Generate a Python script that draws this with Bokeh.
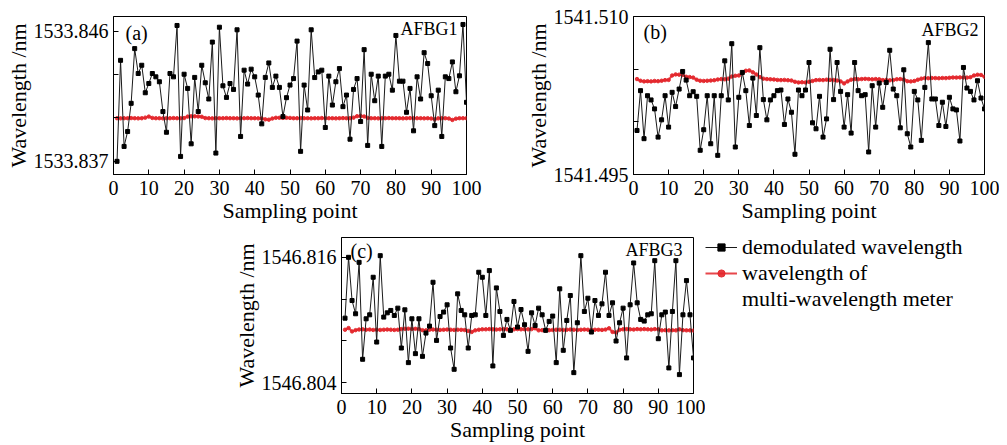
from bokeh.plotting import figure
from bokeh.models import Range1d, FixedTicker, Label, Legend, LegendItem, Spacer
from bokeh.layouts import column, row
from bokeh.embed import file_html
from bokeh.resources import INLINE

# ---------------- data ----------------
sample = list(range(1, 101))
x_ticks = [0, 10, 20, 30, 40, 50, 60, 70, 80, 90, 100]

afbg1_demod = [
    1533.83700, 1533.84398, 1533.83803, 1533.83906, 1533.84101, 1533.84479, 1533.84307, 1533.84364, 1533.84174, 1533.84238,
    1533.84307, 1533.84284, 1533.84250, 1533.84044, 1533.83901, 1533.84307, 1533.84284, 1533.84639, 1533.83734, 1533.84302,
    1533.84204, 1533.83821, 1533.84280, 1533.84044, 1533.84364, 1533.84243, 1533.84131, 1533.84524, 1533.83757, 1533.84627,
    1533.84222, 1533.84142, 1533.84238, 1533.84197, 1533.84609, 1533.83872, 1533.84330, 1533.84234, 1533.84337, 1533.84284,
    1533.84158, 1533.83959, 1533.84280, 1533.84380, 1533.84211, 1533.84289, 1533.84211, 1533.84009, 1533.84140, 1533.84227,
    1533.84272, 1533.84531, 1533.83769, 1533.84227, 1533.84055, 1533.84609, 1533.84279, 1533.84318, 1533.84330, 1533.83934,
    1533.84289, 1533.84089, 1533.84250, 1533.84341, 1533.84078, 1533.84158, 1533.83853, 1533.84197, 1533.84272, 1533.83975,
    1533.84472, 1533.83810, 1533.84302, 1533.84119, 1533.84289, 1533.83803, 1533.84289, 1533.84302, 1533.84192, 1533.84570,
    1533.84254, 1533.84254, 1533.84039, 1533.84204, 1533.83911, 1533.84284, 1533.84131, 1533.84451, 1533.84376, 1533.84153,
    1533.83947, 1533.84192, 1533.83872, 1533.84284, 1533.84272, 1533.84387, 1533.84181, 1533.84291, 1533.84646, 1533.84108,
]
afbg1_meter = [
    1533.83998, 1533.83997, 1533.83998, 1533.83998, 1533.83999, 1533.83998, 1533.83997, 1533.83998, 1533.84002, 1533.84009,
    1533.84000, 1533.83998, 1533.83998, 1533.83997, 1533.83998, 1533.83998, 1533.83999, 1533.83998, 1533.83998, 1533.83999,
    1533.84009, 1533.84011, 1533.84011, 1533.84010, 1533.84008, 1533.83999, 1533.83998, 1533.83997, 1533.83998, 1533.83998,
    1533.83998, 1533.83999, 1533.83998, 1533.83998, 1533.83997, 1533.83998, 1533.83998, 1533.83999, 1533.83998, 1533.83998,
    1533.83997, 1533.83996, 1533.83990, 1533.83988, 1533.83996, 1533.84001, 1533.84001, 1533.84000, 1533.84001, 1533.84000,
    1533.83998, 1533.83998, 1533.83999, 1533.83998, 1533.83998, 1533.83997, 1533.83998, 1533.83998, 1533.83999, 1533.83998,
    1533.83998, 1533.83998, 1533.83997, 1533.83998, 1533.83999, 1533.83998, 1533.83998, 1533.84002, 1533.84012, 1533.84014,
    1533.84010, 1533.84000, 1533.83998, 1533.83998, 1533.83997, 1533.83998, 1533.83998, 1533.83999, 1533.83998, 1533.83998,
    1533.83998, 1533.83997, 1533.83998, 1533.83999, 1533.83998, 1533.83998, 1533.83998, 1533.83997, 1533.83998, 1533.83996,
    1533.83990, 1533.83997, 1533.83998, 1533.83998, 1533.83996, 1533.83986, 1533.83995, 1533.83998, 1533.83998, 1533.83998,
]
afbg1_yticks = [1533.837, 1533.840, 1533.843, 1533.846]
afbg1_ylabels = ["1533.837", "", "", "1533.846"]
afbg1_yrange = (1533.83609, 1533.84701)

afbg2_demod = [
    1541.49918, 1541.50296, 1541.49840, 1541.50248, 1541.50208, 1541.50123, 1541.49855, 1541.50019, 1541.50248, 1541.49950,
    1541.50280, 1541.50145, 1541.50311, 1541.50478, 1541.50396, 1541.50248, 1541.50286, 1541.50242, 1541.49730, 1541.49925,
    1541.50248, 1541.49792, 1541.50248, 1541.49682, 1541.50248, 1541.50579, 1541.50208, 1541.50742, 1541.49761, 1541.50233,
    1541.50469, 1541.50296, 1541.49965, 1541.50415, 1541.50060, 1541.50704, 1541.50211, 1541.50019, 1541.50208, 1541.50248,
    1541.50296, 1541.50302, 1541.49975, 1541.50217, 1541.50091, 1541.49692, 1541.50302, 1541.50248, 1541.50302, 1541.50563,
    1541.49991, 1541.49934, 1541.50242, 1541.49855, 1541.50028, 1541.50689, 1541.50211, 1541.50563, 1541.50289, 1541.49950,
    1541.50258, 1541.49893, 1541.50563, 1541.50296, 1541.50248, 1541.50258, 1541.49714, 1541.50343, 1541.49950, 1541.50368,
    1541.50138, 1541.50374, 1541.50679, 1541.50311, 1541.50248, 1541.49943, 1541.50494, 1541.49887, 1541.49761, 1541.50289,
    1541.50208, 1541.49824, 1541.50327, 1541.50752, 1541.50217, 1541.50217, 1541.49965, 1541.50186, 1541.49956, 1541.50233,
    1541.50123, 1541.50113, 1541.49818, 1541.50516, 1541.50321, 1541.50289, 1541.50208, 1541.50390, 1541.50226, 1541.50123,
]
afbg2_meter = [
    1541.50406, 1541.50390, 1541.50384, 1541.50386, 1541.50384, 1541.50388, 1541.50386, 1541.50390, 1541.50396, 1541.50398,
    1541.50440, 1541.50450, 1541.50448, 1541.50445, 1541.50428, 1541.50425, 1541.50420, 1541.50400, 1541.50390, 1541.50388,
    1541.50390, 1541.50392, 1541.50395, 1541.50402, 1541.50406, 1541.50404, 1541.50410, 1541.50430, 1541.50437, 1541.50440,
    1541.50460, 1541.50485, 1541.50488, 1541.50470, 1541.50450, 1541.50425, 1541.50410, 1541.50406, 1541.50404, 1541.50402,
    1541.50398, 1541.50396, 1541.50398, 1541.50395, 1541.50392, 1541.50380, 1541.50374, 1541.50376, 1541.50374, 1541.50380,
    1541.50388, 1541.50396, 1541.50398, 1541.50396, 1541.50400, 1541.50398, 1541.50396, 1541.50392, 1541.50384, 1541.50365,
    1541.50384, 1541.50400, 1541.50406, 1541.50404, 1541.50406, 1541.50408, 1541.50406, 1541.50404, 1541.50406, 1541.50404,
    1541.50396, 1541.50398, 1541.50394, 1541.50396, 1541.50404, 1541.50406, 1541.50402, 1541.50386, 1541.50384, 1541.50388,
    1541.50400, 1541.50410, 1541.50415, 1541.50414, 1541.50416, 1541.50415, 1541.50414, 1541.50416, 1541.50415, 1541.50418,
    1541.50421, 1541.50420, 1541.50422, 1541.50421, 1541.50420, 1541.50424, 1541.50440, 1541.50447, 1541.50445, 1541.50428,
]
afbg2_yticks = [1541.495, 1541.500, 1541.505, 1541.510]
afbg2_ylabels = ["1541.495", "", "", "1541.510"]
afbg2_yrange = (1541.495, 1541.510)

afbg3_demod = [
    1546.81017, 1546.81600, 1546.81186, 1546.81059, 1546.81552, 1546.80623, 1546.81011, 1546.81049, 1546.81409, 1546.80788,
    1546.81616, 1546.81027, 1546.81068, 1546.81091, 1546.81043, 1546.81113, 1546.80731, 1546.81097, 1546.80591, 1546.81011,
    1546.80677, 1546.81011, 1546.80651, 1546.80874, 1546.80941, 1546.81361, 1546.80804, 1546.81033, 1546.81075, 1546.81145,
    1546.80731, 1546.80527, 1546.81250, 1546.81091, 1546.81049, 1546.80731, 1546.81043, 1546.81049, 1546.81457, 1546.81409,
    1546.81043, 1546.81473, 1546.80559, 1546.81307, 1546.81081, 1546.80852, 1546.81005, 1546.80900, 1546.81177, 1546.80932,
    1546.81100, 1546.80954, 1546.80699, 1546.81068, 1546.80947, 1546.81113, 1546.81049, 1546.80900, 1546.80986, 1546.81037,
    1546.80591, 1546.81298, 1546.80709, 1546.80995, 1546.81234, 1546.80495, 1546.80973, 1546.81616, 1546.81081, 1546.81208,
    1546.80884, 1546.81186, 1546.81043, 1546.81154, 1546.81457, 1546.81043, 1546.81164, 1546.80798, 1546.80973, 1546.81113,
    1546.80636, 1546.81145, 1546.81546, 1546.81164, 1546.81005, 1546.80989, 1546.81049, 1546.81059, 1546.81568, 1546.80820,
    1546.81049, 1546.81075, 1546.80540, 1546.81081, 1546.81568, 1546.80476, 1546.81049, 1546.81377, 1546.81049, 1546.80636,
]
afbg3_meter = [
    1546.80906, 1546.80922, 1546.80890, 1546.80902, 1546.80908, 1546.80910, 1546.80906, 1546.80908, 1546.80904, 1546.80906,
    1546.80904, 1546.80906, 1546.80908, 1546.80906, 1546.80904, 1546.80906, 1546.80912, 1546.80915, 1546.80916, 1546.80914,
    1546.80915, 1546.80912, 1546.80902, 1546.80900, 1546.80906, 1546.80908, 1546.80906, 1546.80904, 1546.80906, 1546.80908,
    1546.80906, 1546.80904, 1546.80906, 1546.80905, 1546.80903, 1546.80895, 1546.80885, 1546.80900, 1546.80906, 1546.80910,
    1546.80910, 1546.80912, 1546.80910, 1546.80908, 1546.80910, 1546.80912, 1546.80910, 1546.80908, 1546.80910, 1546.80912,
    1546.80910, 1546.80911, 1546.80910, 1546.80912, 1546.80920, 1546.80900, 1546.80902, 1546.80900, 1546.80902, 1546.80904,
    1546.80906, 1546.80906, 1546.80904, 1546.80906, 1546.80908, 1546.80906, 1546.80904, 1546.80906, 1546.80908, 1546.80906,
    1546.80904, 1546.80906, 1546.80906, 1546.80904, 1546.80908, 1546.80920, 1546.80885, 1546.80880, 1546.80905, 1546.80910,
    1546.80912, 1546.80910, 1546.80908, 1546.80912, 1546.80910, 1546.80912, 1546.80910, 1546.80908, 1546.80912, 1546.80910,
    1546.80900, 1546.80902, 1546.80900, 1546.80902, 1546.80900, 1546.80910, 1546.80902, 1546.80900, 1546.80900, 1546.80898,
]
afbg3_yticks = [1546.804, 1546.808, 1546.812, 1546.816]
afbg3_ylabels = ["1546.804", "", "", "1546.816"]
afbg3_yrange = (1546.80295, 1546.8179)

x_label = "Sampling point"
y_label = "Wavelength /nm"
legend_lines = ["demodulated wavelength", "wavelength of", "multi-wavelength meter"]

# ---------------- style ----------------
FONT = "Liberation Serif"
BLACK = "#1a1a1a"
RED = "#e3262b"


def style_axis(ax, ticks, labels=None):
    ax.ticker = FixedTicker(ticks=ticks)
    ax.major_tick_in = 5
    ax.major_tick_out = 0
    ax.minor_tick_line_color = None
    ax.major_tick_line_color = "black"
    ax.axis_line_color = "black"
    ax.major_label_text_font = FONT
    ax.major_label_text_color = "black"
    ax.major_label_text_font_size = "20px"
    ax.major_label_standoff = 6
    if labels is not None:
        ax.major_label_overrides = {t: l for t, l in zip(ticks, labels)}


def draw_series(p, demod, meter):
    r_line = p.line(sample, meter, line_color=RED, line_width=2, line_alpha=0.85)
    r_mark = p.scatter(sample, meter, marker="circle", size=3.5, fill_color=RED,
                       line_color=RED, alpha=0.9)
    b_line = p.line(sample, demod, line_color=BLACK, line_width=1)
    b_mark = p.scatter(sample, demod, marker="square", size=4, fill_color="black",
                       line_color="black")
    return b_line, b_mark, r_line, r_mark


def make_panel(width, height, borders, yrange, yticks, ylabels, demod, meter,
               tag, tag_off, name, name_off):
    bl, br, bt, bb = borders
    p = figure(width=width, height=height, x_range=Range1d(0, 100),
               y_range=Range1d(*yrange), output_backend="svg",
               toolbar_location=None, min_border_left=bl, min_border_right=br,
               min_border_top=bt, min_border_bottom=bb)
    p.background_fill_color = "white"
    p.border_fill_color = "white"
    p.outline_line_color = "black"
    p.outline_line_width = 1
    p.xgrid.visible = False
    p.ygrid.visible = False

    style_axis(p.xaxis[0], x_ticks)
    style_axis(p.yaxis[0], yticks, ylabels)
    p.yaxis[0].major_label_standoff = 5
    for ax, lab in ((p.xaxis[0], x_label), (p.yaxis[0], y_label)):
        ax.axis_label = lab
        ax.axis_label_text_font = FONT
        ax.axis_label_text_font_size = "22px"
        ax.axis_label_text_font_style = "normal"
        ax.axis_label_text_color = "black"
        ax.axis_label_standoff = 0

    draw_series(p, demod, meter)

    p.add_layout(Label(x=0, y=yrange[1], x_offset=tag_off[0], y_offset=-tag_off[1],
                       text=tag, text_font=FONT, text_font_size="20px",
                       text_baseline="top", text_align="left", text_color="black"))
    p.add_layout(Label(x=100, y=yrange[1], x_offset=-name_off[0], y_offset=-name_off[1],
                       text=name, text_font=FONT, text_font_size="18px",
                       text_baseline="top", text_align="right", text_color="black"))
    return p


H = 228
pa = make_panel(513, H, (113, 47, 16, 53), afbg1_yrange, afbg1_yticks, afbg1_ylabels,
                afbg1_demod, afbg1_meter, "(a)", (12, 5), "AFBG1", (9, 2))
pb = make_panel(486, H, (120, 15, 15, 54), afbg2_yrange, afbg2_yticks, afbg2_ylabels,
                afbg2_demod, afbg2_meter, "(b)", (10, 4), "AFBG2", (6, 3))
pc = make_panel(484, 217, (120, 12, 9, 52), afbg3_yrange, afbg3_yticks, afbg3_ylabels,
                afbg3_demod, afbg3_meter, "(c)", (9, 2), "AFBG3", (11, 2))

# legend panel: the AFBG3 series drawn again with ranges that keep them out of
# view, so that only the legend swatches of these renderers are seen
pl = figure(width=290, height=211, x_range=Range1d(-2, -1), y_range=Range1d(0, 1),
            output_backend="svg", toolbar_location=None, x_axis_type=None,
            y_axis_type=None, min_border=0)
pl.outline_line_color = None
pl.background_fill_alpha = 0
pl.border_fill_alpha = 0
pl.xgrid.visible = False
pl.ygrid.visible = False
lg = draw_series(pl, afbg3_demod, afbg3_meter)
blank = pl.line(sample, afbg3_meter, line_alpha=0)

legend = Legend(items=[LegendItem(label=legend_lines[0], renderers=[lg[0], lg[1]]),
                       LegendItem(label=legend_lines[1], renderers=[lg[2], lg[3]]),
                       LegendItem(label=legend_lines[2], renderers=[blank])],
                location="top_left")
legend.label_text_font = FONT
legend.label_text_font_size = "22px"
legend.label_text_color = "black"
legend.glyph_width = 32
legend.glyph_height = 18
legend.label_height = 18
legend.label_standoff = 5
legend.spacing = 0
legend.padding = 0
legend.margin = 0
legend.border_line_alpha = 0
legend.background_fill_alpha = 0
pl.add_layout(legend, "center")

layout = column(row(pa, pb),
                row(Spacer(width=221, height=217), pc,
                    column(Spacer(width=290, height=6), pl)))

with open("out.html", "w") as f:
    f.write(file_html(layout, INLINE))
